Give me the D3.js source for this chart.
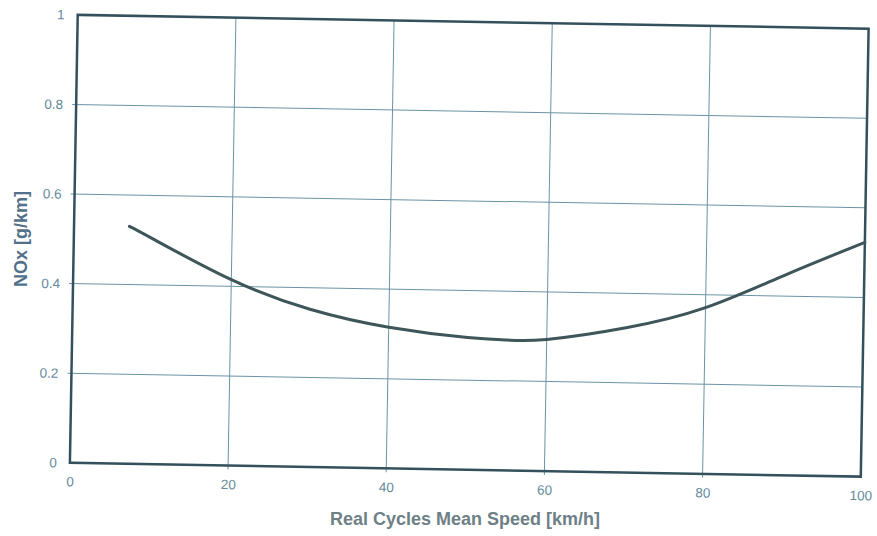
<!DOCTYPE html>
<html>
<head>
<meta charset="utf-8">
<script src="https://cdn.jsdelivr.net/npm/d3@7"></script>
<style>
    body { margin: 0; background: #fff; }
    text { font-family: "Liberation Sans", Arial, sans-serif; }
</style>
</head>
<body>
<div id="chart"></div>
<script>
// curve
const speed = [7, 10, 20, 30, 40, 50, 55, 60, 70, 80, 90, 100];
const nox = [0.53, 0.503, 0.415, 0.352, 0.315, 0.295, 0.291, 0.294, 0.323, 0.371, 0.447, 0.523];
const xTicks = [0, 20, 40, 60, 80, 100];
const yTicks = [0, 0.2, 0.4, 0.6, 0.8, 1];

const W = 877, H = 536;
const margin = { top: 21.75, right: 12.25, bottom: 66.25, left: 73.75 };
const width = W - margin.left - margin.right;
const height = H - margin.top - margin.bottom;

const svg = d3.select('#chart')
    .append('svg')
    .attr('width', W)
    .attr('height', H);

// the original is a slightly tilted scan
const cx = margin.left + width / 2, cy = margin.top + height / 2;
const g = svg.append('g')
    .attr('transform', `rotate(1, ${cx}, ${cy}) translate(${margin.left},${margin.top})`);

const x = d3.scaleLinear().domain([0, 100]).range([0, width]);
const y = d3.scaleLinear().domain([0, 1]).range([height, 0]);

const gridColor = '#6a93a6';
const textColor = '#658a9b';

// grid
g.selectAll('line.vgrid')
    .data(xTicks.slice(1, -1))
    .join('line')
    .attr('class', 'vgrid')
    .attr('x1', d => x(d)).attr('x2', d => x(d))
    .attr('y1', 0).attr('y2', height + 4)
    .attr('stroke', gridColor)
    .attr('stroke-width', 1);

g.selectAll('line.hgrid')
    .data(yTicks.slice(1, -1))
    .join('line')
    .attr('class', 'hgrid')
    .attr('x1', -4).attr('x2', width)
    .attr('y1', d => y(d)).attr('y2', d => y(d))
    .attr('stroke', gridColor)
    .attr('stroke-width', 1);

// axes (labels only)
const xAxis = g.append('g')
    .attr('transform', `translate(0,${height})`)
    .call(d3.axisBottom(x).tickValues(xTicks).tickSize(0).tickPadding(14));
const yAxis = g.append('g')
    .call(d3.axisLeft(y).tickValues(yTicks).tickSize(0).tickPadding(13)
        .tickFormat(d => d === 0 || d === 1 ? d3.format('d')(d) : d3.format('.1f')(d)));

[xAxis, yAxis].forEach(a => {
    a.select('.domain').remove();
    a.selectAll('text')
        .attr('fill', textColor)
        .attr('font-size', 13.5)
        .attr('font-family', '"Liberation Sans", Arial, sans-serif');
});

// frame
g.append('rect')
    .attr('width', width)
    .attr('height', height)
    .attr('fill', 'none')
    .attr('stroke', '#33505c')
    .attr('stroke-width', 2.5);

// curve
const line = d3.line()
    .x((d, i) => x(speed[i]))
    .y(d => y(d))
    .curve(d3.curveNatural);

g.append('path')
    .datum(nox)
    .attr('d', line)
    .attr('fill', 'none')
    .attr('stroke', '#3e5659')
    .attr('stroke-width', 3)
    .attr('stroke-linecap', 'round');

// axis titles
svg.append('text')
    .attr('x', 465)
    .attr('y', 525)
    .attr('text-anchor', 'middle')
    .attr('font-size', 18)
    .attr('font-weight', 'bold')
    .attr('fill', '#6e7f86')
    .text('Real Cycles Mean Speed [km/h]');

svg.append('text')
    .attr('transform', 'translate(26.5,239) rotate(-90)')
    .attr('text-anchor', 'middle')
    .attr('font-size', 18)
    .attr('font-weight', 'bold')
    .attr('fill', '#52708a')
    .text('NOx [g/km]');
</script>
</body>
</html>
